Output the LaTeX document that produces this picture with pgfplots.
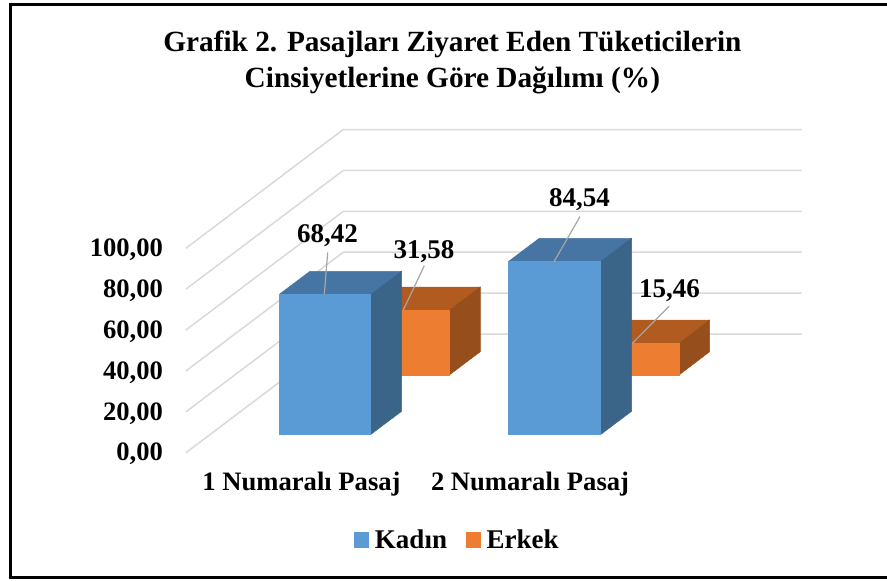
\documentclass[border=0pt]{standalone}
\usepackage{pgfplots}
\pgfplotsset{compat=1.18}
\usepackage{fontspec}
\setmainfont{Liberation Serif}
\definecolor{cBlue}{HTML}{5B9BD5}
\definecolor{cBlueTop}{HTML}{4675A3}
\definecolor{cBlueSide}{HTML}{3A6589}
\definecolor{cOrange}{HTML}{ED7D31}
\definecolor{cOrangeTop}{HTML}{B15B20}
\definecolor{cOrangeSide}{HTML}{964F1C}
\definecolor{cGrid}{HTML}{D9D9D9}
\definecolor{cLead}{HTML}{A6A6A6}

\begin{document}
\begin{tikzpicture}
\begin{axis}[
  scale only axis, width=887pt, height=581pt,
  xmin=0, xmax=887, ymin=-62.74, ymax=221.37,
  clip=false,
  axis line style={draw=none}, tick style={draw=none},
  ytick={0,20,40,60,80,100},
  xtick={301.5,530}, xticklabels={1 Numaralı Pasaj,2 Numaralı Pasaj},
  tick label style={font=\bfseries\fontsize{26.6}{28}\selectfont},
  /pgf/number format/.cd, fixed, fixed zerofill, precision=2, use comma, assume math mode=true,
  /pgfplots/.cd,
  y tick label style={anchor=east, xshift=166.5pt, yshift=-1.5pt},
  x tick label style={anchor=center, yshift=97pt},
  title={Grafik 2. Pasajları Ziyaret Eden Tüketicilerin\\Cinsiyetlerine Göre Dağılımı (\%)},
  title style={at={(0.510,0.8825)}, anchor=center, align=center, font=\bfseries\fontsize{29.3}{35.5}\selectfont},
  reverse legend, legend columns=2,
  legend style={at={(0.5158,0.0705)}, anchor=center, draw=none, fill=none,
    font=\bfseries\fontsize{25.5}{28}\selectfont,
    /tikz/every even column/.append style={column sep=17pt},
    /tikz/every odd column/.append style={column sep=4pt}},
  legend image code/.code={\fill[#1] (0pt,-7.5pt) rectangle (14pt,7.5pt);},
  face/.style={forget plot, mark=none, line width=0.5pt},
  grid line/.style={forget plot, mark=none, cGrid, line width=1.5pt},
  leader/.style={forget plot, mark=none, cLead, line width=1.2pt},
]
% chart frame, open on the right where the image is cut off
\addplot[forget plot, mark=none, black, line width=3pt] coordinates {(887,219.41) (10,219.41) (10,-61.27) (887,-61.27)};

% walls: each gridline runs floor front -> back corner -> right end
\addplot[grid line] coordinates {(186,0) (343.3,58.04) (801.7,58.04)};
\addplot[grid line] coordinates {(186,20) (343.3,78.04) (801.7,78.04)};
\addplot[grid line] coordinates {(186,40) (343.3,98.04) (801.7,98.04)};
\addplot[grid line] coordinates {(186,60) (343.3,118.04) (801.7,118.04)};
\addplot[grid line] coordinates {(186,80) (343.3,138.04) (801.7,138.04)};
\addplot[grid line] coordinates {(186,100) (343.3,158.04) (801.7,158.04)};

% Erkek, back row: base 38.00, depth offset (31, 11.4)
\addplot[face, fill=cOrangeTop, draw=cOrangeTop] coordinates {(357.6,69.58) (449.3,69.58) (480.3,80.98) (388.6,80.98) (357.6,69.58)};
\addplot[face, fill=cOrangeSide, draw=cOrangeSide] coordinates {(449.3,38) (480.3,49.4) (480.3,80.98) (449.3,69.58) (449.3,38)};
\addplot[face, fill=cOrange, draw=cOrange, forget plot=false] coordinates {(357.6,38) (449.3,38) (449.3,69.58) (357.6,69.58) (357.6,38)};
\addlegendentry{Erkek}
\addplot[face, fill=cOrangeTop, draw=cOrangeTop] coordinates {(587.3,53.46) (679,53.46) (709.7,64.86) (618.3,64.86) (587.3,53.46)};
\addplot[face, fill=cOrangeSide, draw=cOrangeSide] coordinates {(679,38) (709.7,49.4) (709.7,64.86) (679,53.46) (679,38)};
\addplot[face, fill=cOrange, draw=cOrange] coordinates {(587.3,38) (679,38) (679,53.46) (587.3,53.46) (587.3,38)};

% Kadin, front row: base 8.90
\addplot[face, fill=cBlueTop, draw=cBlueTop] coordinates {(279,77.32) (370.7,77.32) (401.7,88.72) (310,88.72) (279,77.32)};
\addplot[face, fill=cBlueSide, draw=cBlueSide] coordinates {(370.7,8.9) (401.7,20.3) (401.7,88.72) (370.7,77.32) (370.7,8.9)};
\addplot[face, fill=cBlue, draw=cBlue, forget plot=false] coordinates {(279,8.9) (370.7,8.9) (370.7,77.32) (279,77.32) (279,8.9)};
\addlegendentry{Kadın}
\addplot[face, fill=cBlueTop, draw=cBlueTop] coordinates {(508.3,93.44) (600.7,93.44) (631.7,104.84) (539.3,104.84) (508.3,93.44)};
\addplot[face, fill=cBlueSide, draw=cBlueSide] coordinates {(600.7,8.9) (631.7,20.3) (631.7,104.84) (600.7,93.44) (600.7,8.9)};
\addplot[face, fill=cBlue, draw=cBlue] coordinates {(508.3,8.9) (600.7,8.9) (600.7,93.44) (508.3,93.44) (508.3,8.9)};

% leader lines
\addplot[leader] coordinates {(324.3,77.55) (327.7,97.9)};
\addplot[leader] coordinates {(403.3,69.77) (424.3,91.44)};
\addplot[leader] coordinates {(554,93.42) (580,115.43)};
\addplot[leader] coordinates {(632.3,53.46) (669.3,71.69)};

% data labels
\tikzset{every node/.style={font=\bfseries\fontsize{27}{28}\selectfont}}
\node at (axis cs:327.5,106.2) {68,42};
\node at (axis cs:424,98.4) {31,58};
\node at (axis cs:579.5,123.8) {84,54};
\node at (axis cs:669.5,79.3) {15,46};
\end{axis}
\pgfresetboundingbox
\path[use as bounding box] (0,0) rectangle (887pt,581pt);
\end{tikzpicture}
\end{document}
